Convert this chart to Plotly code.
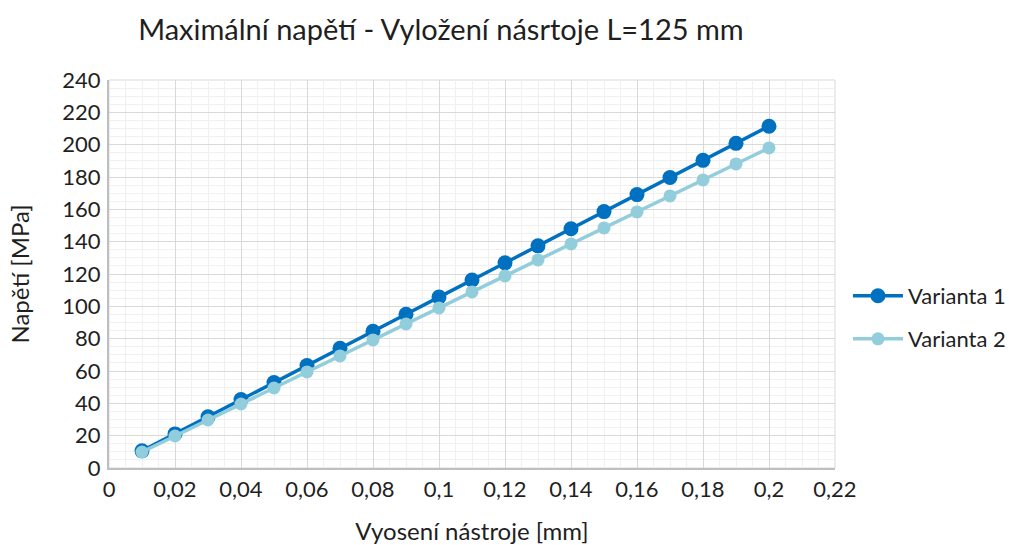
import plotly.graph_objects as go

# Tool offset [mm]
vyoseni = [0.01, 0.02, 0.03, 0.04, 0.05, 0.06, 0.07, 0.08, 0.09, 0.10,
           0.11, 0.12, 0.13, 0.14, 0.15, 0.16, 0.17, 0.18, 0.19, 0.20]

# Maximum stress [MPa]
varianta_1 = [10.6, 21.1, 31.7, 42.3, 52.9, 63.4, 74.0, 84.6, 95.1, 105.7,
              116.3, 126.9, 137.4, 148.0, 158.6, 169.1, 179.7, 190.3, 200.8, 211.4]
varianta_2 = [9.9, 19.8, 29.7, 39.6, 49.5, 59.4, 69.3, 79.2, 89.1, 99.0,
              108.9, 118.8, 128.7, 138.6, 148.5, 158.4, 168.3, 178.2, 188.1, 198.0]

FONT = "Lato"
TXT = "#1f1f1f"
C1 = "#0070C0"
C2 = "#92CDDC"

fig = go.Figure()
fig.add_trace(go.Scatter(
    x=vyoseni, y=varianta_1, name="Varianta 1", mode="lines+markers",
    line=dict(color=C1, width=3.5), marker=dict(color=C1, size=15),
    showlegend=True, legend="legend"))
fig.add_trace(go.Scatter(
    x=vyoseni, y=varianta_2, name="Varianta 2", mode="lines+markers",
    line=dict(color=C2, width=3.5), marker=dict(color=C2, size=13),
    showlegend=True, legend="legend2"))

axis_common = dict(
    showgrid=True, gridcolor="#D9D9D9", gridwidth=1,
    showline=True, linecolor="#BFBFBF", linewidth=2,
    zeroline=False, ticks="", automargin=False,
    tickfont=dict(family=FONT, size=22, color=TXT),
)

legend_common = dict(xref="container", yref="container",
                     xanchor="left", yanchor="middle", itemwidth=50,
                     font=dict(family=FONT, size=22, color=TXT),
                     bgcolor="rgba(0,0,0,0)")

fig.update_layout(
    width=1009, height=545,
    margin=dict(l=109, r=174, t=80, b=77, autoexpand=False),
    paper_bgcolor="white", plot_bgcolor="white",
    separators=", ",
    showlegend=True,
    font=dict(family=FONT, color=TXT),
    title=dict(text="Maximální napětí - Vyložení násrtoje L=125 mm",
               font=dict(family=FONT, size=29, color=TXT),
               x=0.437, xanchor="center", y=0.945, yanchor="middle"),
    xaxis=dict(range=[0, 0.22], dtick=0.02, tick0=0, ticklabelstandoff=1,
               minor=dict(dtick=0.005, showgrid=True, gridcolor="#F0F0F0"),
               title=dict(text="Vyosení nástroje [mm]",
                          font=dict(family=FONT, size=24, color=TXT), standoff=23),
               **axis_common),
    yaxis=dict(range=[0, 240], dtick=20, tick0=0, ticklabelstandoff=2,
               minor=dict(dtick=5, showgrid=True, gridcolor="#F0F0F0"),
               title=dict(text="Napětí [MPa]",
                          font=dict(family=FONT, size=24, color=TXT), standoff=26),
               **axis_common),
    legend=dict(x=0.8404, y=0.457, **legend_common),
    legend2=dict(x=0.8404, y=0.378, **legend_common),
)
# thin frame on the top and right sides of the plot area
fig.add_shape(type="rect", xref="paper", yref="paper", x0=0, y0=0, x1=1, y1=1,
              line=dict(color="#D9D9D9", width=1), layer="below")

fig.write_html("out.html")
